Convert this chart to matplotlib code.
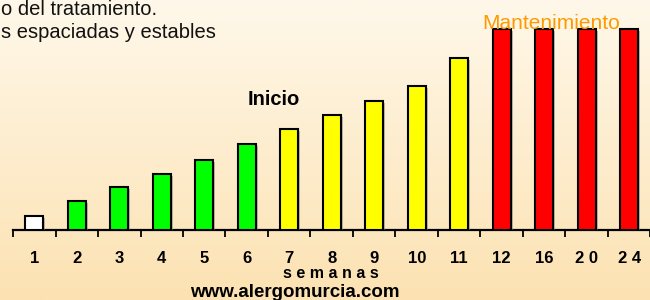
import numpy as np
import matplotlib
matplotlib.use("Agg")
import matplotlib.pyplot as plt
import matplotlib.patheffects as pe

plt.rcParams['font.family'] = ['Liberation Sans', 'DejaVu Sans']

# semanas del tratamiento y dosis relativa
semanas = ['1', '2', '3', '4', '5', '6', '7', '8', '9', '10', '11', '12', '16', '2 0', '2 4']
dosis = [1, 2, 3, 3.9, 4.9, 6, 7, 8, 9, 10, 12, 14, 14, 14, 14]
colores = ['white'] + ['#00FF00'] * 5 + ['#FFFF00'] * 5 + ['#FF0000'] * 4

fig = plt.figure(figsize=(6.5, 3), dpi=100)

# fondo degradado
bg = fig.add_axes([0, 0, 1, 1])
grad = np.linspace(0, 1, 256).reshape(-1, 1)
top = np.array([255, 248, 234]) / 255
bot = np.array([252, 226, 178]) / 255
img = top + (bot - top) * grad[:, :, None]
bg.imshow(img, aspect='auto', extent=[0, 1, 0, 1])
bg.axis('off')

ax = fig.add_axes([13 / 650, 70 / 300, 637.5 / 650, 230 / 300])
ax.patch.set_alpha(0)
x = np.arange(len(semanas))
bars = ax.bar(x, dosis, width=0.42, color=colores, edgecolor='black', linewidth=1.5, zorder=3)
for b in bars:
    b.set_path_effects([pe.SimplePatchShadow(offset=(1.5, -1.5), shadow_rgbFace='gray', alpha=0.5), pe.Normal()])

ax.set_xlim(-0.5, len(semanas) - 0.5)
ax.set_ylim(0, 16)
for s in ['top', 'right', 'left']:
    ax.spines[s].set_visible(False)
ax.spines['bottom'].set_linewidth(1.6)
ax.set_yticks([])
ax.set_xticks(np.arange(-0.5, len(semanas), 1.0))
ax.set_xticklabels([])
ax.tick_params(axis='x', which='major', direction='out', length=5, width=1.3)
ax.set_xticks(x, minor=True)
ax.set_xticklabels(semanas, minor=True, fontsize=12, fontweight='bold')
ax.tick_params(axis='x', which='minor', length=0, pad=15)

fig.text(1 / 650, 1 - 15 / 300, 'o del tratamiento.', fontsize=14.5, va='baseline', ha='left', color='#111111')
fig.text(1 / 650, 1 - 38 / 300, 's espaciadas y estables', fontsize=14.5, va='baseline', ha='left', color='#111111')
fig.text(274 / 650, 1 - 105 / 300, 'Inicio', fontsize=14.5, fontweight='bold', ha='center', va='baseline')
fig.text(482 / 650, 1 - 29 / 300, 'Mantenimiento', fontsize=15, color='#FF9900', ha='left', va='baseline')
fig.text(331 / 650, 1 - 278 / 300, 's e m a n a s', fontsize=11.5, fontweight='bold', ha='center', va='baseline')
fig.text(295 / 650, 1 - 297 / 300, 'www.alergomurcia.com', fontsize=13.5, fontweight='bold', ha='center', va='baseline')

fig.savefig('out.png', dpi=100)
